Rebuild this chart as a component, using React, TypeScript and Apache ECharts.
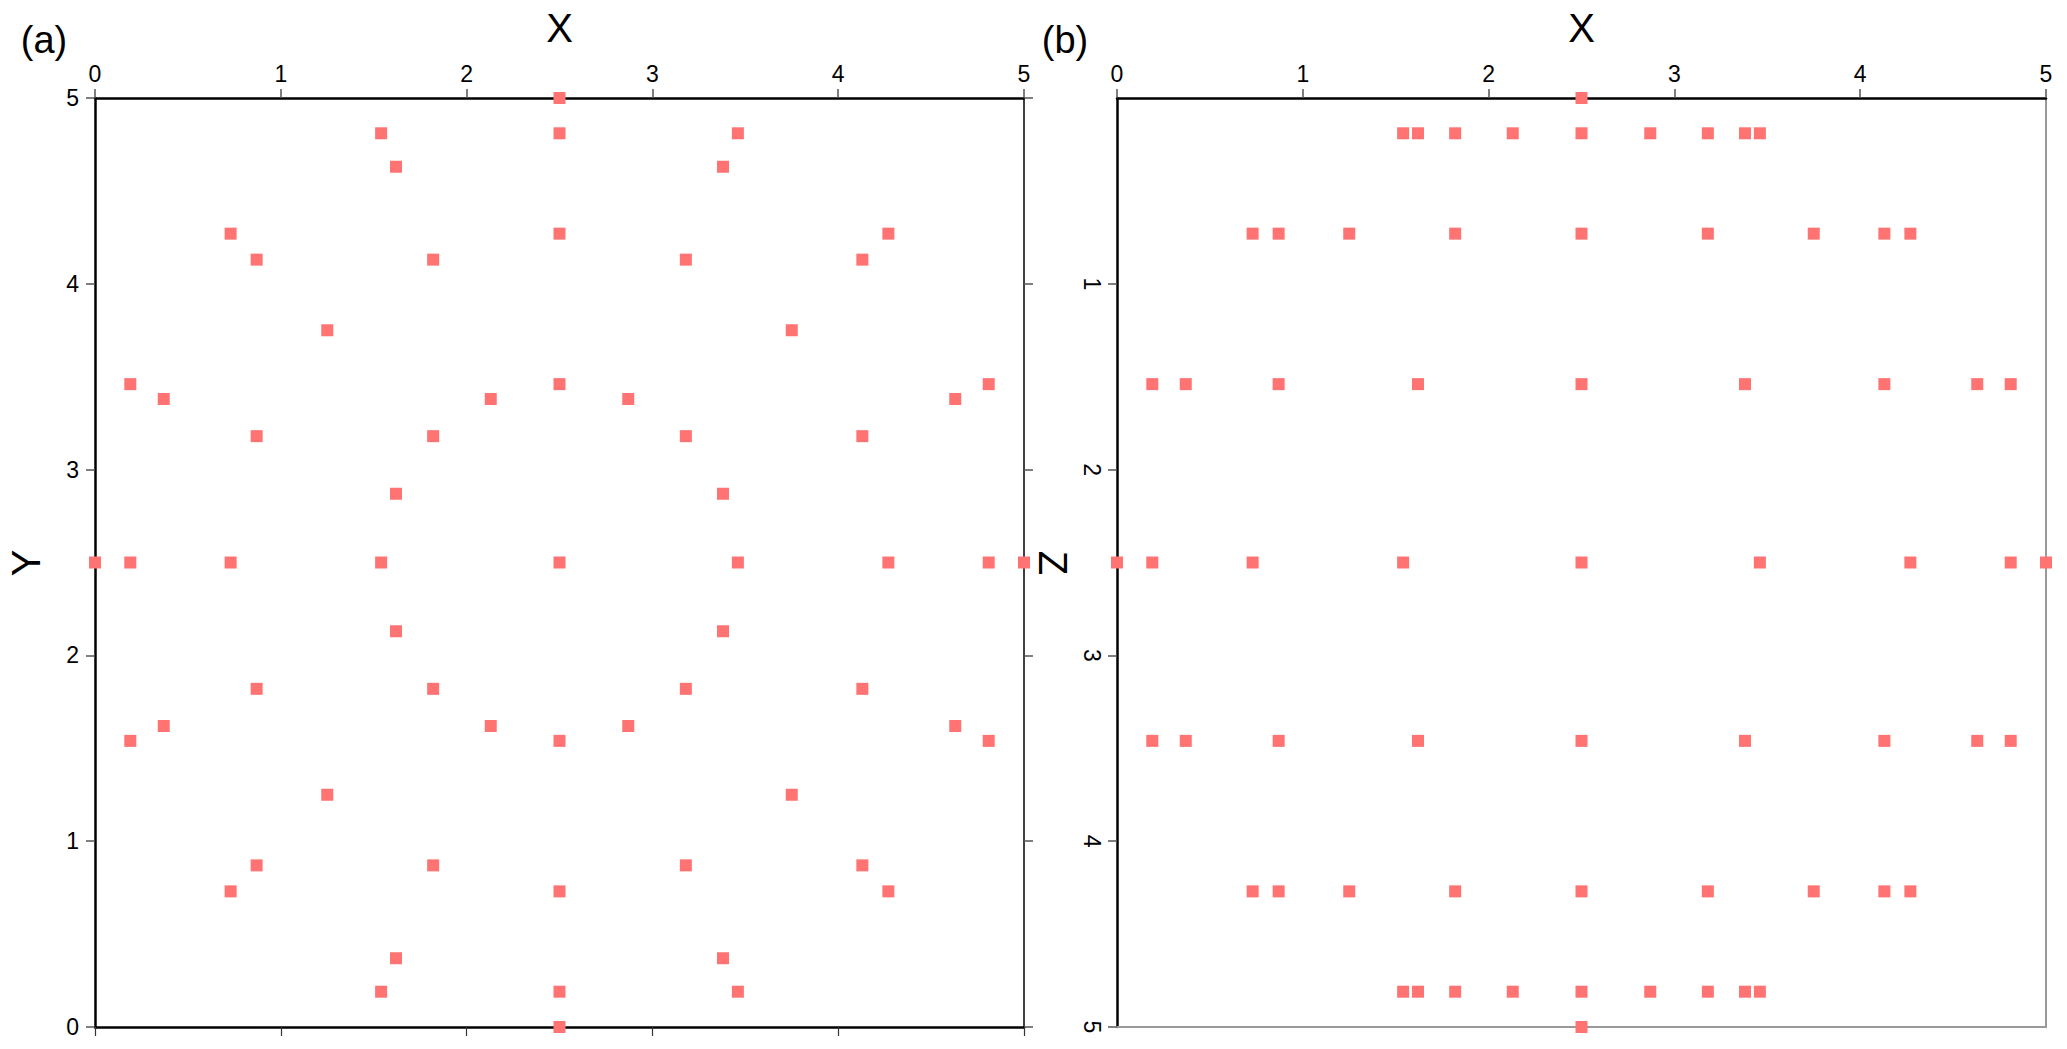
import React, { useEffect, useRef } from "react";
import * as echarts from "echarts";

// Panel (a): rows of points, y value of each row and the x values in it
const aRowY = [5, 4.81, 4.63, 4.27, 4.13, 3.75, 3.46, 3.38, 3.18, 2.87, 2.5, 2.13, 1.82, 1.62, 1.54, 1.25, 0.87, 0.73, 0.37, 0.19, 0];
const aRowX = [
  [2.5],
  [1.54, 2.5, 3.46],
  [1.62, 3.38],
  [0.73, 2.5, 4.27],
  [0.87, 1.82, 3.18, 4.13],
  [1.25, 3.75],
  [0.19, 2.5, 4.81],
  [0.37, 2.13, 2.87, 4.63],
  [0.87, 1.82, 3.18, 4.13],
  [1.62, 3.38],
  [0, 0.19, 0.73, 1.54, 2.5, 3.46, 4.27, 4.81, 5],
  [1.62, 3.38],
  [0.87, 1.82, 3.18, 4.13],
  [0.37, 2.13, 2.87, 4.63],
  [0.19, 2.5, 4.81],
  [1.25, 3.75],
  [0.87, 1.82, 3.18, 4.13],
  [0.73, 2.5, 4.27],
  [1.62, 3.38],
  [1.54, 2.5, 3.46],
  [2.5],
];

// Panel (b): rows of points, z value of each row and the x values in it
const bRowZ = [0, 0.19, 0.73, 1.54, 2.5, 3.46, 4.27, 4.81, 5];
const bRowX = [
  [2.5],
  [1.54, 1.62, 1.82, 2.13, 2.5, 2.87, 3.18, 3.38, 3.46],
  [0.73, 0.87, 1.25, 1.82, 2.5, 3.18, 3.75, 4.13, 4.27],
  [0.19, 0.37, 0.87, 1.62, 2.5, 3.38, 4.13, 4.63, 4.81],
  [0, 0.19, 0.73, 1.54, 2.5, 3.46, 4.27, 4.81, 5],
  [0.19, 0.37, 0.87, 1.62, 2.5, 3.38, 4.13, 4.63, 4.81],
  [0.73, 0.87, 1.25, 1.82, 2.5, 3.18, 3.75, 4.13, 4.27],
  [1.54, 1.62, 1.82, 2.13, 2.5, 2.87, 3.18, 3.38, 3.46],
  [2.5],
];

const axisMin = 0;
const axisMax = 5;
const axisStep = 1;

const FONT = "'Liberation Sans', Arial, Helvetica, sans-serif";
const MARK = "#ff7373";

export default function App() {
  const ref = useRef<HTMLDivElement>(null);

  useEffect(() => {
    if (!ref.current) return;
    const chart = echarts.init(ref.current, undefined, { renderer: "svg" });

    const dataA: number[][] = [];
    aRowY.forEach((y, i) => aRowX[i].forEach((x) => dataA.push([x, y])));
    const dataB: number[][] = [];
    bRowZ.forEach((z, i) => bRowX[i].forEach((x) => dataB.push([x, z])));

    const label = { fontSize: 23, color: "#000", fontFamily: FONT };
    const tick = { show: true, length: 9, lineStyle: { color: "#555", width: 1.5 } };
    const base = { type: "value" as const, min: axisMin, max: axisMax, interval: axisStep, splitLine: { show: false } };
    const line = (color: string, width: number) => ({ show: true, onZero: false, lineStyle: { color, width } });

    chart.setOption({
      animation: false,
      backgroundColor: "#fff",
      grid: [
        { left: 95, top: 98, width: 929, height: 929 },
        { left: 1117, top: 98, width: 929, height: 929 },
      ],
      xAxis: [
        { ...base, gridIndex: 0, position: "top", axisLine: line("#000", 2.5), axisTick: tick, axisLabel: { ...label, margin: 13 } },
        { ...base, gridIndex: 0, position: "bottom", axisLine: line("#000", 2.5), axisTick: { ...tick, lineStyle: { color: "#333", width: 1.2 } }, axisLabel: { show: false } },
        { ...base, gridIndex: 1, position: "top", axisLine: line("#000", 2.5), axisTick: tick, axisLabel: { ...label, margin: 13 } },
        { ...base, gridIndex: 1, position: "bottom", axisLine: line("#999", 2), axisTick: { show: false }, axisLabel: { show: false } },
      ],
      yAxis: [
        { ...base, gridIndex: 0, position: "left", axisLine: line("#000", 2.5), axisTick: tick, axisLabel: { ...label, margin: 16 } },
        { ...base, gridIndex: 0, position: "right", axisLine: line("#000", 1.5), axisTick: tick, axisLabel: { show: false } },
        { ...base, gridIndex: 1, position: "left", inverse: true, axisLine: line("#000", 2.5), axisTick: tick, axisLabel: { ...label, margin: 14, rotate: -90, showMinLabel: false } },
        { ...base, gridIndex: 1, position: "right", inverse: true, axisLine: line("#999", 2), axisTick: { show: false }, axisLabel: { show: false } },
      ],
      series: [
        { type: "scatter", xAxisIndex: 0, yAxisIndex: 0, data: dataA, symbol: "rect", symbolSize: 12, itemStyle: { color: MARK, opacity: 1 }, clip: false, z: 5 },
        { type: "scatter", xAxisIndex: 2, yAxisIndex: 2, data: dataB, symbol: "rect", symbolSize: 12, itemStyle: { color: MARK, opacity: 1 }, clip: false, z: 5 },
      ],
      graphic: [
        { type: "text", x: 44, y: 40, style: { text: "(a)", fontSize: 38, fontFamily: FONT, fill: "#000", textAlign: "center", textVerticalAlign: "middle" } },
        { type: "text", x: 1065, y: 40, style: { text: "(b)", fontSize: 38, fontFamily: FONT, fill: "#000", textAlign: "center", textVerticalAlign: "middle" } },
        { type: "text", x: 559.5, y: 28, style: { text: "X", fontSize: 40, fontFamily: FONT, fill: "#000", textAlign: "center", textVerticalAlign: "middle" } },
        { type: "text", x: 1581.5, y: 28, style: { text: "X", fontSize: 40, fontFamily: FONT, fill: "#000", textAlign: "center", textVerticalAlign: "middle" } },
        { type: "text", x: 26, y: 563, rotation: Math.PI / 2, style: { text: "Y", fontSize: 40, fontFamily: FONT, fill: "#000", textAlign: "center", textVerticalAlign: "middle" } },
        { type: "text", x: 1053, y: 563, rotation: -Math.PI / 2, style: { text: "Z", fontSize: 40, fontFamily: FONT, fill: "#000", textAlign: "center", textVerticalAlign: "middle" } },
      ],
    });

    return () => chart.dispose();
  }, []);

  return <div ref={ref} style={{ position: "absolute", left: 0, top: 0, width: 2067, height: 1049 }} />;
}
